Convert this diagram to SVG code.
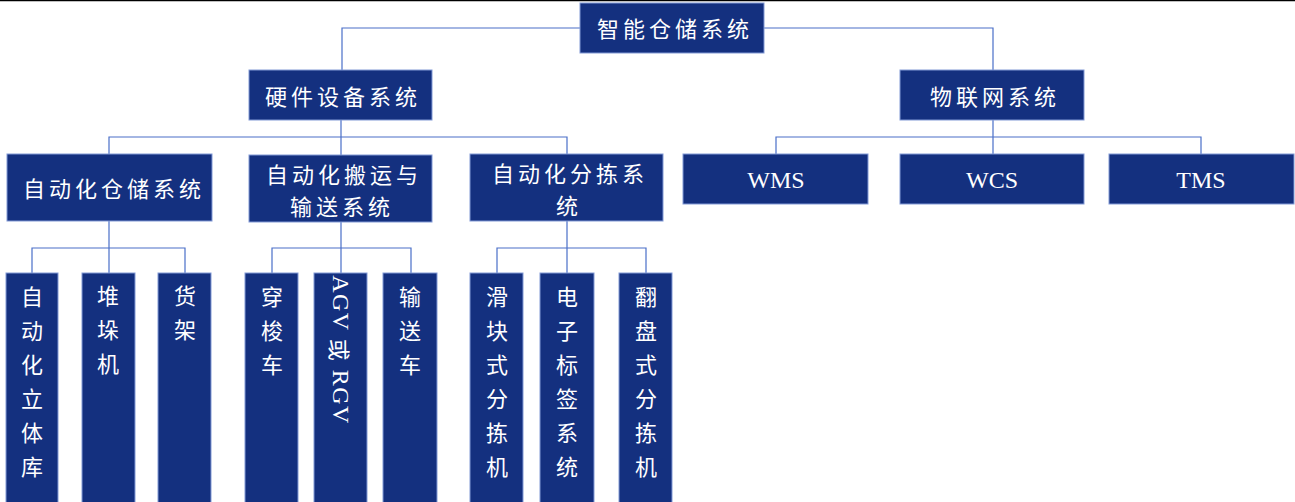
<svg xmlns="http://www.w3.org/2000/svg" width="1295" height="502" viewBox="0 0 1295 502">
<style>
.b{fill:#14307f;stroke:#8199d6;stroke-width:1}
.t{fill:#ffffff;font-family:"Noto Sans CJK SC","Liberation Serif",serif;font-size:22px;letter-spacing:4px;text-anchor:middle;dominant-baseline:central}
.l{fill:#ffffff;font-family:"Liberation Serif",serif;font-size:24px;text-anchor:middle;dominant-baseline:central}
.v{fill:#ffffff;font-family:"Noto Sans CJK SC",serif;font-size:22px;text-anchor:middle;dominant-baseline:central}
.c{fill:none;stroke:#4a6fc8;stroke-width:1.2}
</style>
<rect x="0" y="0" width="1295" height="502" fill="#ffffff"/>
<line x1="0" y1="0.5" x2="1295" y2="0.5" stroke="#000000" stroke-width="1.5"/>
<g id="connectors">
<path class="c" d="M342,70 V28 H993 V70"/>
<path class="c" d="M341,120 V155 M109,155 V137 H567 V155"/>
<path class="c" d="M993,120 V155 M776,155 V137 H1201 V155"/>
<path class="c" d="M109,221 V273 M32,273 V248 H185 V273"/>
<path class="c" d="M341,222 V273 M272,273 V248 H411 V273"/>
<path class="c" d="M567,221 V273 M497,273 V248 H646 V273"/>
</g>
<g id="root"><rect class="b" x="580" y="3" width="184" height="50"/><text class="t" x="675" y="27">智能仓储系统</text></g>
<g id="hw"><rect class="b" x="249" y="70" width="183" height="50"/><text class="t" x="343" y="95">硬件设备系统</text></g>
<g id="iot"><rect class="b" x="900" y="70" width="184" height="50"/><text class="t" x="995" y="95">物联网系统</text></g>
<g id="as"><rect class="b" x="7" y="154" width="205" height="67"/><text class="t" x="114" y="187">自动化仓储系统</text></g>
<g id="ac"><rect class="b" x="249" y="155" width="183" height="67"/><text class="t" x="344" y="173">自动化搬运与</text><text class="t" x="342" y="205">输送系统</text></g>
<g id="ap"><rect class="b" x="470" y="154" width="193" height="67"/><text class="t" x="570" y="172">自动化分拣系</text><text class="t" x="569" y="204">统</text></g>
<g id="wms"><rect class="b" x="683" y="154" width="185" height="50"/><text class="l" x="776" y="180">WMS</text></g>
<g id="wcs"><rect class="b" x="900" y="154" width="184" height="50"/><text class="l" x="992" y="180">WCS</text></g>
<g id="tms"><rect class="b" x="1109" y="154" width="185" height="50"/><text class="l" x="1201" y="180">TMS</text></g>
<g id="n1"><rect class="b" x="6" y="273" width="52" height="232"/><text class="v"><tspan x="32" y="295">自</tspan><tspan x="32" y="329">动</tspan><tspan x="32" y="363">化</tspan><tspan x="32" y="397">立</tspan><tspan x="32" y="431">体</tspan><tspan x="32" y="465">库</tspan></text></g>
<g id="n2"><rect class="b" x="82" y="273" width="53" height="232"/><text class="v"><tspan x="108" y="294">堆</tspan><tspan x="108" y="328">垛</tspan><tspan x="108" y="362">机</tspan></text></g>
<g id="n3"><rect class="b" x="158" y="273" width="53" height="232"/><text class="v"><tspan x="185" y="294">货</tspan><tspan x="185" y="328">架</tspan></text></g>
<g id="n4"><rect class="b" x="245" y="273" width="53" height="232"/><text class="v"><tspan x="272" y="295">穿</tspan><tspan x="272" y="329">梭</tspan><tspan x="272" y="363">车</tspan></text></g>
<g id="n5"><rect class="b" x="314" y="273" width="53" height="232"/><text class="l" transform="translate(341,350) rotate(90)" x="0" y="0" letter-spacing="1.5">AGV <tspan font-family="Noto Sans CJK SC" font-size="22">或</tspan> RGV</text></g>
<g id="n6"><rect class="b" x="383" y="273" width="54" height="232"/><text class="v"><tspan x="410" y="295">输</tspan><tspan x="410" y="329">送</tspan><tspan x="410" y="363">车</tspan></text></g>
<g id="n7"><rect class="b" x="470" y="273" width="53" height="232"/><text class="v"><tspan x="497" y="295">滑</tspan><tspan x="497" y="329">块</tspan><tspan x="497" y="363">式</tspan><tspan x="497" y="397">分</tspan><tspan x="497" y="431">拣</tspan><tspan x="497" y="465">机</tspan></text></g>
<g id="n8"><rect class="b" x="540" y="273" width="54" height="232"/><text class="v"><tspan x="567" y="295">电</tspan><tspan x="567" y="329">子</tspan><tspan x="567" y="363">标</tspan><tspan x="567" y="397">签</tspan><tspan x="567" y="431">系</tspan><tspan x="567" y="465">统</tspan></text></g>
<g id="n9"><rect class="b" x="619" y="273" width="53" height="232"/><text class="v"><tspan x="646" y="295">翻</tspan><tspan x="646" y="329">盘</tspan><tspan x="646" y="363">式</tspan><tspan x="646" y="397">分</tspan><tspan x="646" y="431">拣</tspan><tspan x="646" y="465">机</tspan></text></g>
</svg>
